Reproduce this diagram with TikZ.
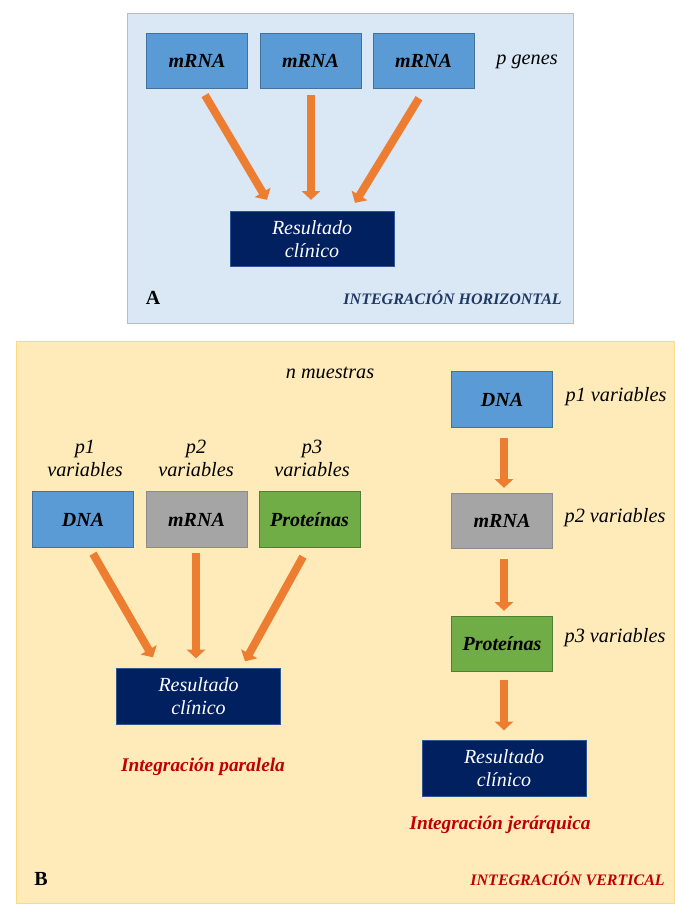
\documentclass[tikz,border=0pt]{standalone}
\usepackage{fontspec}
\setmainfont{Liberation Serif}
\usetikzlibrary{arrows.meta}
\definecolor{panelAfill}{HTML}{DAE7F5}
\definecolor{panelAdraw}{HTML}{9DC3E6}
\definecolor{panelBfill}{HTML}{FFEBB9}
\definecolor{panelBdraw}{HTML}{FFD980}
\definecolor{blueBox}{HTML}{5B9BD5}
\definecolor{blueBoxD}{HTML}{41719C}
\definecolor{grayBox}{HTML}{A5A5A5}
\definecolor{grayBoxD}{HTML}{8C8C8C}
\definecolor{greenBox}{HTML}{70AD47}
\definecolor{greenBoxD}{HTML}{507E32}
\definecolor{navyBox}{HTML}{002060}
\definecolor{navyBoxD}{HTML}{2F5597}
\definecolor{arrowOr}{HTML}{ED7D31}
\definecolor{titleNavy}{HTML}{1F3864}
\definecolor{titleRed}{HTML}{C00000}
\begin{document}
\begin{tikzpicture}[x=0.75pt,y=-0.75pt,
  omicbox/.style={draw, line width=0.75pt, inner sep=0pt, minimum width=75.75pt, minimum height=41.5pt,
    font=\fontsize{15}{17}\selectfont\bfseries\itshape, text=black},
  bluebox/.style={omicbox, fill=blueBox, draw=blueBoxD},
  graybox/.style={omicbox, fill=grayBox, draw=grayBoxD},
  greenbox/.style={omicbox, fill=greenBox, draw=greenBoxD},
  outcome/.style={draw=navyBoxD, fill=navyBox, line width=0.75pt, inner sep=0pt, minimum width=123pt, minimum height=41.5pt,
    align=center, text=white, font=\fontsize{15}{17.25}\selectfont\itshape},
  lab/.style={inner sep=0pt, align=center, font=\fontsize{15.2}{17.25}\selectfont\itshape},
  panelletter/.style={inner sep=0pt, font=\fontsize{15}{17}\selectfont\bfseries},
  bigtitle/.style={inner sep=0pt, font=\fontsize{12}{14}\selectfont\bfseries\itshape},
  subtitle/.style={inner sep=0pt, text=titleRed, font=\fontsize{14.5}{16}\selectfont\bfseries\itshape},
  fat/.style={draw=arrowOr, line width=6pt, -{Triangle[width=13.5pt,length=6.5pt]}}
]
\useasboundingbox (0,0) rectangle (675,904);

% Panel A
\path[fill=panelAfill, draw=panelAdraw, line width=0.75pt] (127,13) rectangle (573,323);
\node[bluebox] (ma1) at (197,61) {mRNA};
\node[bluebox] (ma2) at (310.5,61) {mRNA};
\node[bluebox] (ma3) at (423.5,61) {mRNA};
\node[lab] (pg) at (527,62) {p genes};
\node[outcome] (ra) at (312,239) {Resultado\\clínico};
\draw[fat] ([shift={(8,6)}]ma1.south) -- ([shift={(-45,-11)}]ra.north);
\draw[fat] ([shift={(0.5,6)}]ma2.south) -- ([shift={(-1,-11)}]ra.north);
\draw[fat] ([shift={(-4.5,9)}]ma3.south) -- ([shift={(43,-8)}]ra.north);
\node[panelletter] (la) at (153,298) {A};
\node[bigtitle, text=titleNavy, anchor=east] (ta) at (562,298) {INTEGRACIÓN HORIZONTAL};

% Panel B
\path[fill=panelBfill, draw=panelBdraw, line width=0.75pt] (16,341) rectangle (674,903);
\node[lab] (nm) at (330,373) {n muestras};

% parallel
\node[lab] (lp1) at (85,458.5) {p1\\variables};
\node[lab] (lp2) at (196,458.5) {p2\\variables};
\node[lab] (lp3) at (312,458.5) {p3\\variables};
\node[bluebox] (pd) at (83,519.5) {DNA};
\node[graybox] (pm) at (196.5,519.5) {mRNA};
\node[greenbox] (pp) at (309.5,519.5) {Proteínas};
\node[outcome] (pr) at (198.5,696.5) {Resultado\\clínico};
\draw[fat] ([shift={(10,6)}]pd.south) -- ([shift={(-45.5,-11)}]pr.north);
\draw[fat] ([shift={(-0.5,5)}]pm.south) -- ([shift={(-2.5,-10)}]pr.north);
\draw[fat] ([shift={(-6.5,9)}]pp.south) -- ([shift={(46.5,-7)}]pr.north);
\node[subtitle] (ip) at (203,767) {Integración paralela};

% hierarchical
\node[bluebox] (vd) at (502,399.5) {DNA};
\node[graybox] (vm) at (502,521) {mRNA};
\node[greenbox] (vp) at (502,644) {Proteínas};
\node[outcome] (vr) at (504,768.5) {Resultado\\clínico};
\node[lab] (lv1) at (616,397) {p1 variables};
\node[lab] (lv2) at (615,518) {p2 variables};
\node[lab] (lv3) at (615,638) {p3 variables};
\draw[fat] ([shift={(2,10)}]vd.south) -- ([shift={(2,-5)}]vm.north);
\draw[fat] ([shift={(2,10)}]vm.south) -- ([shift={(2,-5)}]vp.north);
\draw[fat] ([shift={(2,8)}]vp.south) -- ([shift={(0,-10)}]vr.north);
\node[subtitle] (ij) at (500,825) {Integración jerárquica};

\node[panelletter] (lb) at (41,879) {B};
\node[bigtitle, text=titleRed, anchor=east] (tb) at (665,879) {INTEGRACIÓN VERTICAL};
\end{tikzpicture}
\end{document}
